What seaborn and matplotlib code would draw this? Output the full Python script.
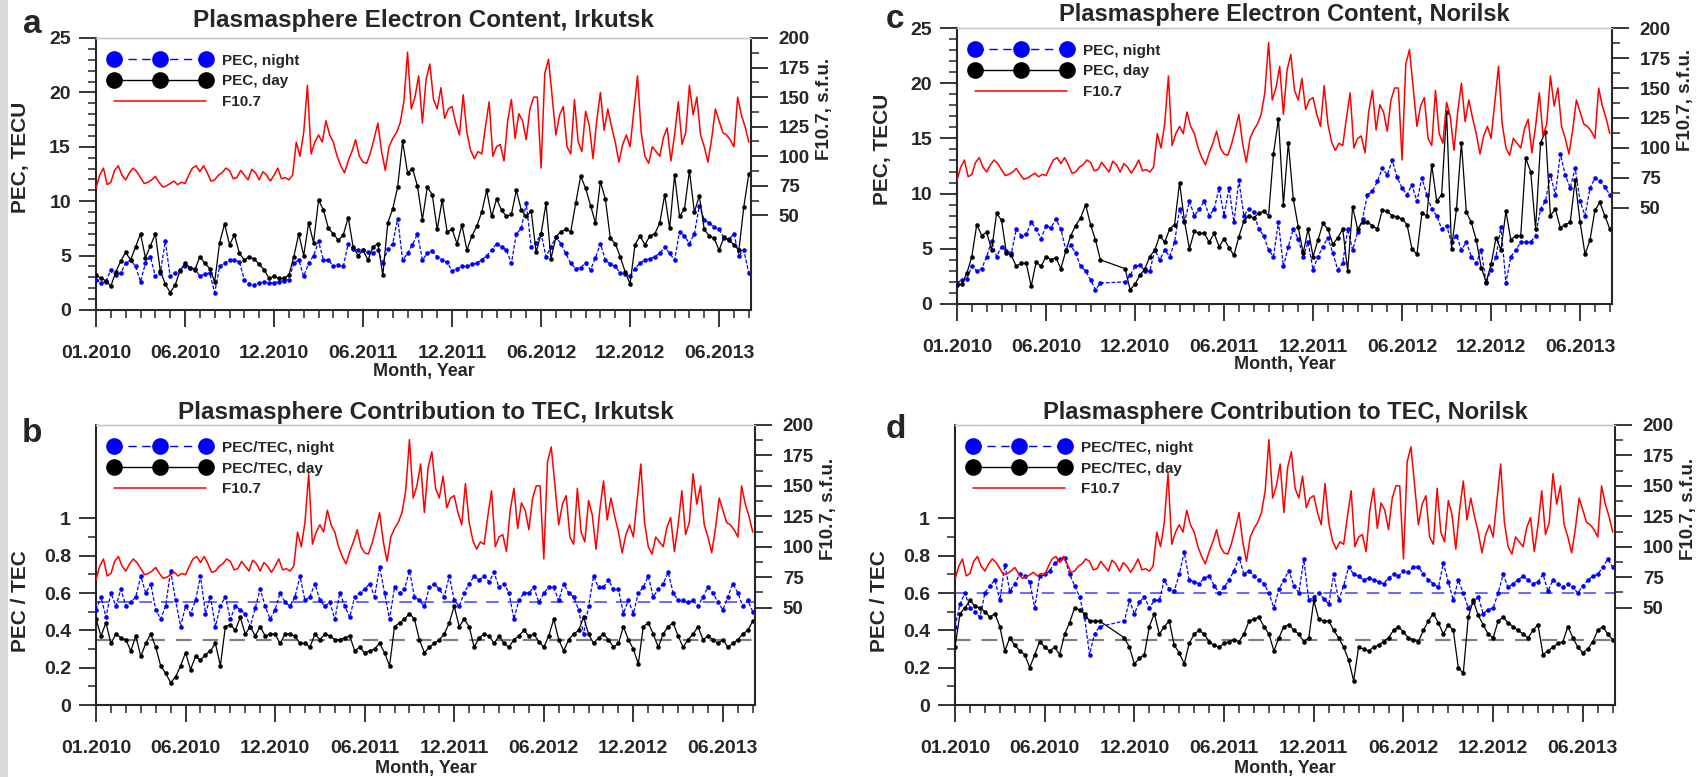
import numpy as np
import pandas as pd
import matplotlib
matplotlib.use("Agg")
import matplotlib.pyplot as plt
import seaborn as sns
from matplotlib.lines import Line2D
from matplotlib.patches import Rectangle
from matplotlib.ticker import FixedLocator, FixedFormatter, MultipleLocator

# ---------------------------------------------------------------
# Data (time axis in months since 01.2010)
# ---------------------------------------------------------------
x_tick_labels = ["01.2010", "06.2010", "12.2010", "06.2011",
                 "12.2011", "06.2012", "12.2012", "06.2013"]

# F10.7 solar flux, every quarter month
f107 = [
    73, 84, 90, 76,   78, 88, 92, 84,   80, 86, 90, 87,   82, 77, 78, 80,
    83, 78, 74, 75,   77, 79, 76, 78,   77, 84, 90, 92,   87, 92, 86, 79,
    80, 84, 86, 90,   88, 81, 82, 88,   84, 80, 89, 86,   80, 87, 84, 79,
    84, 90, 81, 82,   80, 84, 112, 100, 120, 160, 102, 112, 118, 112, 130, 118,
    112, 100, 92, 86, 96, 104, 114, 100, 95, 94, 103, 115, 128, 104, 88, 108,
    115, 120, 128, 146, 188, 140, 150, 168, 128, 165, 178, 148, 140, 158, 132, 140,
    142, 128, 118, 152, 120, 105, 98, 104, 102, 125, 146, 100, 108, 110, 96, 130,
    148, 115, 136, 130, 114, 140, 150, 150, 90, 170, 182, 150, 118, 135, 142, 108,
    102, 148, 112, 104, 138, 126, 98, 130, 154, 122, 140, 125, 112, 95, 110, 118,
    108, 138, 168, 120, 100, 94, 108, 104, 100, 116, 124, 96, 118, 146, 110, 120,
    160, 135, 150, 118, 108, 95, 115, 140, 130, 120, 118, 114, 108, 150, 135, 125,
    112,
]
f107_months = np.arange(len(f107)) / 4.0

nan = np.nan

# PEC and PEC/TEC, every third of a month
irk_pec_night = [
    2.8, 2.5, 2.6, 3.7, 3.2, 3.4, 4.3, 4.6, 4.0, 2.6, 4.3, 4.9,
    3.1, 3.4, 6.3, 3.1, 3.4, 3.7, 4.0, 3.9, 3.8, 3.1, 3.3, 3.4,
    1.6, 4.0, 4.3, 4.6, 4.6, 4.4, 2.8, 2.4, 2.3, 2.5, 2.6, 2.5,
    2.5, 2.6, 2.7, 2.8, 4.3, 4.6, 3.1, 4.3, 5.0, 6.3, 4.6, 4.6,
    4.0, 4.1, 4.0, 6.1, 5.6, 5.5, 5.5, 5.3, 5.2, 5.5, 4.3, 5.6,
    6.1, 8.4, 4.6, 5.2, 6.0, 7.0, 4.6, 5.2, 5.4, 4.9, 4.6, 4.4,
    3.6, 3.8, 4.0, 4.0, 4.2, 4.3, 4.6, 5.0, 5.5, 6.1, 5.8, 5.5,
    4.3, 7.0, 7.5, 9.8, 5.8, 6.2, 7.0, 4.9, 5.8, 6.7, 6.1, 5.2,
    4.3, 3.8, 3.9, 4.3, 3.7, 4.8, 6.1, 4.6, 4.2, 4.0, 3.4, 3.3,
    3.1, 3.8, 4.3, 4.6, 4.7, 4.9, 5.2, 5.8, 5.2, 4.6, 7.2, 6.8,
    6.1, 7.0, 9.6, 8.3, 8.0, 7.6, 7.4, 6.6, 6.5, 7.0, 5.0, 5.5,
    3.4,
]
irk_pec_day = [
    3.2, 2.9, 2.7, 2.2, 3.5, 4.5, 5.3, 4.6, 5.8, 7.0, 4.8, 5.9,
    7.0, 3.6, 2.4, 1.6, 2.3, 3.6, 4.3, 3.9, 3.7, 4.9, 4.3, 3.8,
    2.6, 6.2, 7.9, 6.0, 6.9, 5.2, 4.6, 4.9, 4.7, 4.2, 3.7, 2.9,
    3.1, 2.9, 2.9, 3.2, 4.9, 7.0, 5.0, 8.0, 6.2, 10.1, 9.2, 7.5,
    7.0, 6.4, 6.9, 8.5, 5.8, 5.0, 5.5, 4.6, 5.8, 6.1, 3.2, 8.0,
    9.3, 11.3, 15.5, 12.6, 13.0, 11.4, 8.3, 11.3, 10.6, 7.4, 10.1, 7.2,
    7.4, 6.1, 7.8, 5.5, 6.8, 7.7, 9.0, 11.0, 8.6, 10.2, 9.2, 8.6,
    8.8, 11.0, 9.2, 8.6, 9.1, 5.3, 7.0, 9.8, 4.7, 6.7, 7.2, 7.4,
    7.2, 9.8, 12.3, 11.2, 9.6, 8.0, 11.8, 10.2, 6.6, 6.1, 4.9, 3.5,
    2.4, 6.0, 6.8, 6.0, 6.8, 7.0, 8.0, 10.6, 7.5, 12.4, 8.6, 9.3,
    12.8, 9.0, 10.5, 7.4, 6.8, 6.6, 5.5, 6.7, 6.4, 6.0, 5.5, 9.5,
    12.5,
]
nor_pec_night = [
    1.9, 2.2, 2.3, 3.4, 3.0, 3.2, 4.3, 5.7, 4.3, 5.2, 4.8, 4.6,
    6.8, 6.2, 6.3, 7.4, 6.8, 5.9, 7.1, 6.9, 7.7, 6.8, 4.9, 5.3,
    4.6, 3.4, 3.0, 2.2, 1.3, 1.9, nan, nan, nan, nan, 2.0, 2.6,
    3.4, 3.5, 3.0, 3.0, 4.9, 4.0, 4.9, 4.3, 5.6, 8.6, 7.4, 9.3,
    8.0, 8.6, 9.3, 8.0, 8.6, 10.5, 8.0, 10.5, 7.4, 11.2, 8.0, 8.6,
    8.3, 6.8, 6.2, 4.9, 4.3, 7.4, 3.4, 5.2, 6.8, 5.9, 4.3, 5.6,
    3.1, 4.3, 5.2, 6.0, 4.6, 3.1, 3.7, 6.8, 4.9, 6.5, 7.7, 9.9,
    10.2, 11.1, 12.3, 11.7, 13.0, 11.5, 10.5, 9.9, 10.8, 9.3, 11.4, 9.9,
    8.6, 8.0, 6.8, 7.1, 5.6, 6.2, 4.9, 5.6, 4.3, 3.7, 4.9, 1.9,
    3.1, 4.3, 7.0, 1.9, 4.3, 4.9, 5.6, 5.6, 5.6, 6.2, 8.6, 9.3,
    11.7, 9.9, 13.6, 11.7, 10.5, 12.3, 9.3, 8.0, 10.5, 11.4, 11.1, 10.6,
    9.9,
]
nor_pec_day = [
    1.7, 1.8, 2.8, 4.3, 7.2, 6.2, 6.5, 4.9, 8.2, 7.6, 4.6, 4.4,
    3.4, 3.7, 3.7, 1.6, 3.8, 3.4, 4.3, 4.0, 4.2, 3.2, 4.8, 6.2,
    7.1, 7.8, 9.0, 7.2, 5.8, 4.0, nan, nan, nan, nan, 3.2, 1.3,
    1.8, 2.6, 3.2, 4.3, 4.9, 6.2, 5.6, 6.8, 7.2, 11.0, 7.5, 5.0,
    6.6, 6.4, 6.4, 5.6, 6.4, 5.2, 5.9, 5.1, 4.4, 6.1, 7.5, 8.0,
    7.8, 8.2, 8.4, 8.0, 13.6, 16.8, 9.0, 14.6, 9.5, 7.0, 4.6, 6.8,
    4.3, 5.8, 7.3, 6.8, 5.4, 6.0, 6.8, 3.0, 8.8, 6.8, 7.4, 7.4,
    7.1, 6.8, 8.5, 8.4, 8.0, 7.9, 7.7, 7.2, 5.0, 4.5, 8.2, 8.0,
    12.6, 9.3, 9.9, 17.4, 5.0, 8.6, 14.6, 8.3, 7.4, 5.8, 3.3, 2.0,
    3.6, 6.0, 4.9, 8.4, 5.8, 6.2, 6.2, 13.2, 12.0, 6.8, 14.6, 15.6,
    8.0, 8.6, 6.9, 7.2, 7.4, 11.2, 7.4, 4.5, 5.8, 8.5, 9.2, 8.0,
    6.8,
]
irk_ratio_night = [
    0.51, 0.58, 0.47, 0.60, 0.53, 0.62, 0.53, 0.55, 0.58, 0.69, 0.60, 0.65,
    0.51, 0.46, 0.53, 0.72, 0.56, 0.42, 0.53, 0.49, 0.56, 0.69, 0.49, 0.58,
    0.42, 0.53, 0.58, 0.46, 0.53, 0.51, 0.49, 0.42, 0.52, 0.62, 0.53, 0.46,
    0.51, 0.60, 0.55, 0.53, 0.58, 0.69, 0.56, 0.58, 0.65, 0.56, 0.53, 0.55,
    0.46, 0.60, 0.53, 0.47, 0.58, 0.60, 0.62, 0.65, 0.58, 0.74, 0.60, 0.46,
    0.63, 0.60, 0.62, 0.72, 0.58, 0.56, 0.53, 0.63, 0.65, 0.62, 0.58, 0.69,
    0.56, 0.53, 0.60, 0.65, 0.69, 0.67, 0.69, 0.66, 0.71, 0.63, 0.65, 0.60,
    0.46, 0.56, 0.60, 0.60, 0.63, 0.55, 0.60, 0.63, 0.63, 0.56, 0.65, 0.60,
    0.58, 0.51, 0.38, 0.53, 0.69, 0.63, 0.63, 0.67, 0.62, 0.62, 0.49, 0.56,
    0.49, 0.60, 0.63, 0.69, 0.58, 0.62, 0.65, 0.71, 0.60, 0.56, 0.56, 0.55,
    0.56, 0.53, 0.58, 0.63, 0.60, 0.55, 0.51, 0.58, 0.65, 0.60, 0.53, 0.56,
    0.50,
]
irk_ratio_day = [
    0.46, 0.37, 0.44, 0.33, 0.38, 0.36, 0.35, 0.29, 0.37, 0.26, 0.33, 0.38,
    0.31, 0.21, 0.17, 0.12, 0.15, 0.21, 0.28, 0.19, 0.26, 0.24, 0.27, 0.29,
    0.33, 0.21, 0.42, 0.43, 0.40, 0.47, 0.38, 0.42, 0.37, 0.42, 0.37, 0.38,
    0.38, 0.33, 0.38, 0.38, 0.37, 0.33, 0.33, 0.31, 0.38, 0.35, 0.38, 0.37,
    0.35, 0.35, 0.36, 0.37, 0.29, 0.31, 0.28, 0.29, 0.30, 0.33, 0.28, 0.21,
    0.42, 0.44, 0.46, 0.49, 0.46, 0.35, 0.28, 0.31, 0.33, 0.35, 0.38, 0.44,
    0.53, 0.42, 0.46, 0.42, 0.31, 0.36, 0.38, 0.37, 0.33, 0.37, 0.33, 0.31,
    0.35, 0.37, 0.40, 0.37, 0.38, 0.34, 0.31, 0.37, 0.46, 0.35, 0.29, 0.35,
    0.38, 0.40, 0.47, 0.38, 0.33, 0.36, 0.38, 0.35, 0.31, 0.33, 0.42, 0.35,
    0.30, 0.22, 0.42, 0.44, 0.38, 0.31, 0.38, 0.42, 0.44, 0.37, 0.31, 0.35,
    0.38, 0.42, 0.35, 0.37, 0.35, 0.33, 0.35, 0.31, 0.33, 0.35, 0.38, 0.40,
    0.45,
]
nor_ratio_night = [
    0.42, 0.54, 0.60, 0.52, 0.50, 0.47, 0.60, 0.64, 0.67, 0.56, 0.75, 0.61,
    0.65, 0.70, 0.69, 0.66, 0.52, 0.69, 0.70, 0.72, 0.76, 0.78, 0.79, 0.70,
    0.64, 0.58, 0.47, 0.27, 0.38, 0.42, nan, nan, nan, nan, 0.45, 0.56,
    0.49, 0.55, 0.58, 0.52, 0.56, 0.56, 0.67, 0.62, 0.61, 0.70, 0.82, 0.67,
    0.66, 0.65, 0.68, 0.69, 0.64, 0.60, 0.63, 0.67, 0.72, 0.79, 0.70, 0.72,
    0.69, 0.67, 0.65, 0.60, 0.52, 0.62, 0.67, 0.72, 0.64, 0.60, 0.78, 0.56,
    0.58, 0.60, 0.57, 0.54, 0.70, 0.56, 0.64, 0.74, 0.70, 0.69, 0.67, 0.68,
    0.67, 0.66, 0.65, 0.68, 0.70, 0.69, 0.72, 0.71, 0.74, 0.74, 0.70, 0.67,
    0.65, 0.63, 0.76, 0.66, 0.56, 0.67, 0.60, 0.52, 0.55, 0.58, 0.49, 0.51,
    0.52, 0.60, 0.70, 0.63, 0.65, 0.67, 0.69, 0.67, 0.65, 0.66, 0.70, 0.61,
    0.67, 0.65, 0.63, 0.65, 0.63, 0.60, 0.64, 0.67, 0.69, 0.70, 0.74, 0.78,
    0.74,
]
nor_ratio_day = [
    0.31, 0.49, 0.52, 0.56, 0.53, 0.52, 0.50, 0.47, 0.49, 0.42, 0.29, 0.36,
    0.32, 0.29, 0.27, 0.20, 0.27, 0.34, 0.31, 0.29, 0.31, 0.27, 0.38, 0.44,
    0.52, 0.51, 0.49, 0.45, 0.45, 0.45, nan, nan, nan, nan, 0.36, 0.31,
    0.22, 0.25, 0.27, 0.42, 0.49, 0.38, 0.42, 0.45, 0.32, 0.28, 0.22, 0.33,
    0.38, 0.40, 0.38, 0.34, 0.32, 0.31, 0.33, 0.34, 0.35, 0.34, 0.38, 0.45,
    0.46, 0.47, 0.42, 0.38, 0.29, 0.36, 0.42, 0.43, 0.40, 0.38, 0.34, 0.36,
    0.56, 0.46, 0.45, 0.45, 0.40, 0.36, 0.31, 0.24, 0.13, 0.31, 0.30, 0.29,
    0.31, 0.32, 0.34, 0.36, 0.40, 0.42, 0.39, 0.36, 0.35, 0.34, 0.40, 0.45,
    0.49, 0.44, 0.38, 0.43, 0.40, 0.20, 0.17, 0.47, 0.56, 0.48, 0.43, 0.38,
    0.36, 0.45, 0.47, 0.44, 0.42, 0.40, 0.38, 0.36, 0.40, 0.43, 0.27, 0.29,
    0.31, 0.33, 0.34, 0.42, 0.36, 0.31, 0.28, 0.30, 0.34, 0.40, 0.42, 0.38,
    0.35,
]
pec_months = np.arange(len(irk_pec_day)) / 3.0

# mean levels drawn as dashed reference lines in the ratio panels
irk_ratio_mean = {"night": 0.55, "day": 0.35}
nor_ratio_mean = {"night": 0.60, "day": 0.35}

# ---------------------------------------------------------------
sns.set_style("ticks")
plt.rcParams["font.family"] = ["Liberation Sans", "DejaVu Sans"]
plt.rcParams["font.weight"] = "bold"
plt.rcParams["axes.labelweight"] = "bold"
plt.rcParams["axes.titleweight"] = "bold"

W, H = 1700, 777
fig = plt.figure(figsize=(W / 100, H / 100), dpi=100)
fig.patches.append(Rectangle((0, 0), 8 / W, 1, transform=fig.transFigure,
                             facecolor="#d9d9d9", edgecolor="none"))


def px_box(left, right, top, bottom):
    return [left / W, 1 - bottom / H, (right - left) / W, (bottom - top) / H]


def draw_panel(box, night, day, kind, title, letter, letter_xy, title_size,
               title_pad, xlabel_y, f_label_x, means=None):
    ax = fig.add_axes(box)
    df = pd.DataFrame({"month": pec_months, "night": night, "day": day})

    if means is not None:
        ax.axhline(means["night"], color="#5c5cff", lw=1.3, ls=(0, (7, 5)), zorder=1)
        ax.axhline(means["day"], color="#808080", lw=1.6, ls=(0, (7, 5)), zorder=1)

    nd = df.dropna(subset=["night"])
    sns.lineplot(data=nd, x="month", y="night", ax=ax, color="#0000ff",
                 lw=0.9, linestyle=(0, (3, 1.5)), marker="o", markersize=3.3,
                 markeredgewidth=0, errorbar=None, legend=False, zorder=3)
    dd = df.dropna(subset=["day"])
    sns.lineplot(data=dd, x="month", y="day", ax=ax, color="black",
                 lw=0.9, marker="o", markersize=3.3, markeredgewidth=0,
                 errorbar=None, legend=False, zorder=4)

    ax2 = ax.twinx()
    sns.lineplot(x=f107_months, y=f107, ax=ax2, color="#ff0000", lw=1.1,
                 errorbar=None, legend=False)

    # x axis
    ax.set_xlim(0, 44.15)
    ax.xaxis.set_major_locator(FixedLocator(np.arange(0, 43, 6)))
    ax.xaxis.set_major_formatter(FixedFormatter(x_tick_labels))
    ax.xaxis.set_minor_locator(MultipleLocator(1))
    ax.set_xlabel("Month, Year", fontsize=13, fontweight="bold")
    ax.xaxis.set_label_coords(0.5, xlabel_y)

    # left axis
    if kind == "pec":
        ax.set_ylim(0, 25)
        ax.yaxis.set_major_locator(FixedLocator([0, 5, 10, 15, 20, 25]))
        ax.yaxis.set_minor_locator(FixedLocator(np.arange(0, 26, 1)))
        ax.set_ylabel("PEC, TECU", fontsize=15, fontweight="bold")
        ax.yaxis.set_label_coords(-0.10, 0.56)
        lab_n, lab_d = "PEC, night", "PEC, day"
        f_label_y = 0.74
    else:
        ax.set_ylim(0, 1.5)
        ax.yaxis.set_major_locator(FixedLocator([0, 0.2, 0.4, 0.6, 0.8, 1.0]))
        ax.yaxis.set_major_formatter(FixedFormatter(["0", "0.2", "0.4", "0.6", "0.8", "1"]))
        ax.yaxis.set_minor_locator(FixedLocator([0.1, 0.3, 0.5, 0.7, 0.9]))
        ax.set_ylabel("PEC / TEC", fontsize=15, fontweight="bold")
        ax.yaxis.set_label_coords(-0.10, 0.37)
        lab_n, lab_d = "PEC/TEC, night", "PEC/TEC, day"
        f_label_y = 0.70

    # right axis
    ax2.set_ylim(-30, 200)
    ax2.yaxis.set_major_locator(FixedLocator([50, 75, 100, 125, 150, 175, 200]))
    ax2.yaxis.set_minor_locator(FixedLocator(np.arange(62.5, 200, 25)))
    ax2.set_ylabel("F10.7, s.f.u.", fontsize=13.5, fontweight="bold", rotation=90)
    ax2.yaxis.set_label_coords(f_label_x, f_label_y)

    for a in (ax, ax2):
        a.tick_params(which="major", direction="out", length=12, width=1.3,
                      labelsize=14)
        a.tick_params(which="minor", direction="out", length=6, width=1.1)
        for s in a.spines.values():
            s.set_linewidth(1.5)
        a.spines["top"].set_color("#c8c8c8")
        a.spines["top"].set_linewidth(1.0)
    ax.tick_params(axis="x", which="major", pad=13.5, length=12)
    ax.tick_params(axis="y", which="major", pad=6)
    ax2.tick_params(axis="y", which="major", pad=8, labelsize=13.5)
    for a in (ax, ax2):
        for lab in a.get_xticklabels() + a.get_yticklabels():
            lab.set_fontweight("bold")
    ax.spines["right"].set_visible(False)
    ax2.spines["left"].set_visible(False)
    ax2.spines["bottom"].set_visible(False)

    ax.set_title(title, fontsize=title_size, fontweight="bold", pad=title_pad)
    fig.text(letter_xy[0] / W, 1 - letter_xy[1] / H, letter, fontsize=24,
             fontweight="bold", va="baseline", ha="left")

    handles = [
        Line2D([], [], color="#0000ff", lw=1.0, ls=(0, (6, 4)), marker="o",
               markersize=12, markeredgewidth=0),
        Line2D([], [], color="black", lw=1.0, marker="o", markersize=12,
               markeredgewidth=0),
        Line2D([], [], color="#ff0000", lw=1.1),
    ]
    ax2.legend(handles, [lab_n, lab_d, "F10.7"], loc="upper left",
               bbox_to_anchor=(0.003, 0.985), frameon=False, numpoints=3,
               handlelength=6.6, handletextpad=0.8, labelspacing=0.45,
               borderaxespad=0.35, prop={"size": 11, "weight": "bold"})
    return ax, ax2


draw_panel(px_box(96, 751, 38, 310), irk_pec_night, irk_pec_day, "pec",
           "Plasmasphere Electron Content, Irkutsk", "a", (23, 33),
           17.5, 8, -0.195, 1.099)
draw_panel(px_box(96, 755, 425, 705), irk_ratio_night, irk_ratio_day, "ratio",
           "Plasmasphere Contribution to TEC, Irkutsk", "b", (22, 442),
           17.5, 4, -0.198, 1.099, irk_ratio_mean)
draw_panel(px_box(957, 1612, 28, 304), nor_pec_night, nor_pec_day, "pec",
           "Plasmasphere Electron Content, Norilsk", "c", (886, 28),
           17, 5, -0.188, 1.099)
draw_panel(px_box(955, 1615, 425, 705), nor_ratio_night, nor_ratio_day, "ratio",
           "Plasmasphere Contribution to TEC, Norilsk", "d", (886, 438),
           17, 4, -0.198, 1.099, nor_ratio_mean)

fig.savefig("out.png", dpi=100)
